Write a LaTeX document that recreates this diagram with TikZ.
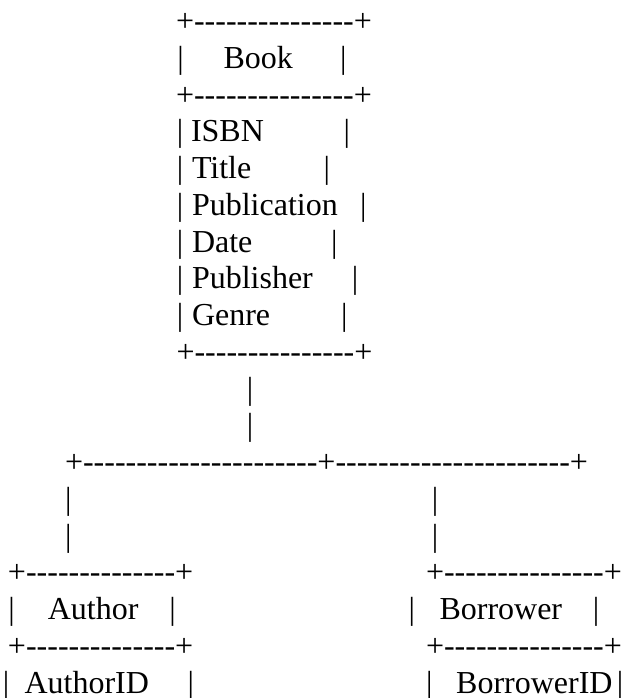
\documentclass[tikz,border=0pt]{standalone}
\usepackage{fontspec}
\setmainfont{Liberation Serif}
\ExplSyntaxOn
\cs_new:Npn \asciidashes #1 { \prg_replicate:nn {#1} { -\kern0pt } }
\ExplSyntaxOff
\tikzset{
  txt/.style={inner sep=0pt, outer sep=0pt, anchor=base west, font=\fontsize{32}{36}\selectfont, text=black},
  bar/.style={inner sep=0pt, outer sep=0pt, anchor=base, font=\fontsize{32}{36}\selectfont, text=black}
}
\begin{document}
\begin{tikzpicture}[x=1pt,y=-1pt]
\useasboundingbox (0,0) rectangle (628,698);
% Book box
\node[txt] (bt) at (176,31.54) {+\kern0pt\asciidashes{15}+};
\node[bar] (b2l) at (180.7,68.3) {|};
\node[txt] (bname) at (223.5,68.3) {Book};
\node[bar] (b2r) at (343.3,68.3) {|};
\node[txt] (bm) at (176,105.06) {+\kern0pt\asciidashes{15}+};
\node[bar] (b4l) at (180,141.82) {|};
\node[txt] (isbn) at (191,141.82) {ISBN};
\node[bar] (b4r) at (346.7,141.82) {|};
\node[bar] (b5l) at (180,178.58) {|};
\node[txt] (title) at (192,178.58) {Title};
\node[bar] (b5r) at (326.7,178.58) {|};
\node[bar] (b6l) at (180,215.34) {|};
\node[txt] (publ) at (192,215.34) {Publication};
\node[bar] (b6r) at (363.3,215.34) {|};
\node[bar] (b7l) at (180,252.10) {|};
\node[txt] (date) at (192,252.10) {Date};
\node[bar] (b7r) at (334.3,252.10) {|};
\node[bar] (b8l) at (180,288.86) {|};
\node[txt] (publisher) at (192,288.86) {Publisher};
\node[bar] (b8r) at (355,288.86) {|};
\node[bar] (b9l) at (180,325.62) {|};
\node[txt] (genre) at (192,325.62) {Genre};
\node[bar] (b9r) at (344.3,325.62) {|};
\node[txt] (bb) at (176.5,362.38) {+\kern0pt\asciidashes{15}+};
% trunk
\node[bar] (t11) at (250,399.14) {|};
\node[bar] (t12) at (250,435.90) {|};
\node[txt] (wide) at (65,472.66) {+\kern0pt\asciidashes{22}+\kern0pt\asciidashes{22}+};
\node[bar] (l14) at (68.3,509.42) {|};
\node[bar] (r14) at (435,509.42) {|};
\node[bar] (l15) at (68.3,546.18) {|};
\node[bar] (r15) at (435,546.18) {|};
% Author box
\node[txt] (at) at (8,582.94) {+\kern0pt\asciidashes{14}+};
\node[bar] (a17l) at (11.7,619.70) {|};
\node[txt] (aname) at (47.8,619.70) {Author};
\node[bar] (a17r) at (172.7,619.70) {|};
\node[txt] (ab) at (8,656.46) {+\kern0pt\asciidashes{14}+};
\node[bar] (a19l) at (6,693.22) {|};
\node[txt] (aid) at (24.5,693.22) {AuthorID};
\node[bar] (a19r) at (190.7,693.22) {|};
% Borrower box
\node[txt] (ot) at (426,582.94) {+\kern0pt\asciidashes{15}+};
\node[bar] (o17l) at (411.7,619.70) {|};
\node[txt] (oname) at (439.5,619.70) {Borrower};
\node[bar] (o17r) at (596,619.70) {|};
\node[txt] (ob) at (426,656.46) {+\kern0pt\asciidashes{15}+};
\node[bar] (o19l) at (429.3,693.22) {|};
\node[txt] (oid) at (456.2,693.22) {BorrowerID};
\node[bar] (o19r) at (620,693.22) {|};
\end{tikzpicture}
\end{document}
